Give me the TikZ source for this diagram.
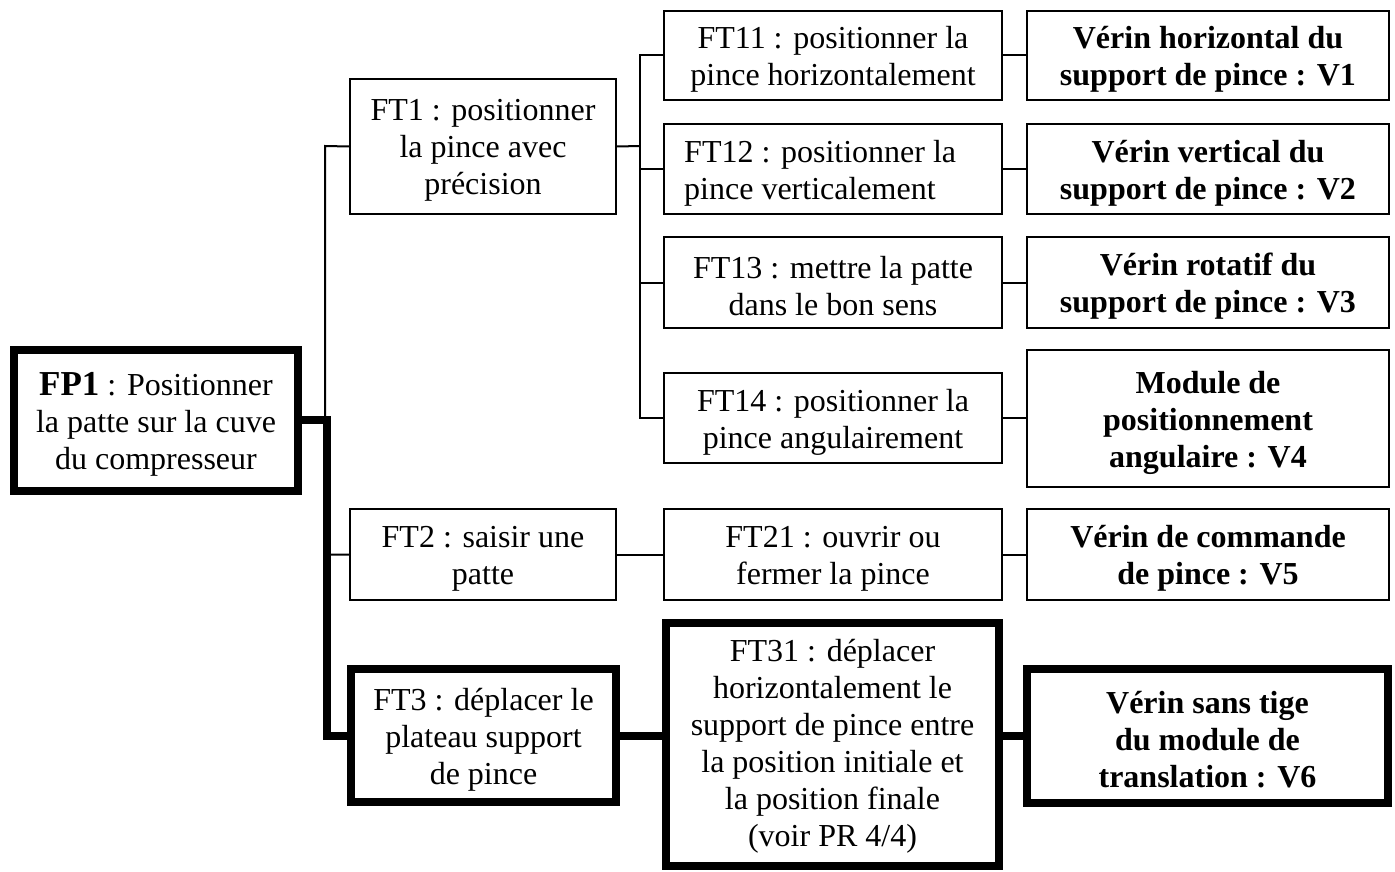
\documentclass[tikz,border=0pt]{standalone}
\usepackage{fontspec}
\setmainfont{Liberation Serif}
\begin{document}
\begin{tikzpicture}[x=1pt,y=-1pt,
  box/.style={draw, line width=2pt, inner sep=0pt},
  thickbox/.style={line width=8pt},
  txt/.style={inner sep=0pt, align=center, font=\fontsize{32}{37}\selectfont},
  btxt/.style={txt, font=\fontsize{32}{37}\selectfont\bfseries},
  conn/.style={line width=2pt},
  tconn/.style={line width=8pt}]
\useasboundingbox (0,0) rectangle (1395,872);
% level 0
\node[box, thickbox, minimum width=284pt, minimum height=141pt] (FP1) at (156,420) {};
\node[txt] (FP1t) at ([yshift=-4pt]FP1.center)
  {{\fontsize{35}{37}\selectfont\bfseries FP1} : Positionner\\la patte sur la cuve\\du compresseur};
% level 1
\node[box, minimum width=266pt, minimum height=135pt] (FT1) at (483,146.5) {};
\node[txt] (FT1t) at ([yshift=-4pt]FT1.center) {FT1 : positionner\\la pince avec\\précision};
\node[box, minimum width=266pt, minimum height=91pt] (FT2) at (483,554.5) {};
\node[txt] (FT2t) at ([yshift=-4pt]FT2.center) {FT2 : saisir une\\patte};
\node[box, thickbox, minimum width=265pt, minimum height=133pt] (FT3) at (483.5,735.5) {};
\node[txt] (FT3t) at ([yshift=-4pt]FT3.center) {FT3 : déplacer le\\plateau support\\de pince};
% level 2
\node[box, minimum width=338pt, minimum height=89pt] (FT11) at (833,55.5) {};
\node[txt] (FT11t) at ([yshift=-4pt]FT11.center) {FT11 : positionner la\\pince horizontalement};
\node[box, minimum width=338pt, minimum height=90pt] (FT12) at (833,169) {};
\node[txt, align=left, anchor=west] (FT12t) at ([yshift=-4pt]FT12.center -| 684,0)
  {FT12 : positionner la\\pince verticalement};
\node[box, minimum width=338pt, minimum height=91pt] (FT13) at (833,282.5) {};
\node[txt] (FT13t) at ([yshift=-4pt]FT13.center) {FT13 : mettre la patte\\dans le bon sens};
\node[box, minimum width=338pt, minimum height=90pt] (FT14) at (833,418) {};
\node[txt] (FT14t) at ([yshift=-4pt]FT14.center) {FT14 : positionner la\\pince angulairement};
\node[box, minimum width=338pt, minimum height=91pt] (FT21) at (833,554.5) {};
\node[txt] (FT21t) at ([yshift=-4pt]FT21.center) {FT21 : ouvrir ou\\fermer la pince};
\node[box, thickbox, minimum width=333pt, minimum height=243pt] (FT31) at (832.5,744.5) {};
\node[txt] (FT31t) at ([yshift=-2pt]FT31.center)
  {FT31 : déplacer\\horizontalement le\\support de pince entre\\la position initiale et\\la position finale\\(voir PR 4/4)};
% level 3
\node[box, minimum width=362pt, minimum height=89pt] (V1) at (1208,55.5) {};
\node[btxt] (V1t) at ([yshift=-4pt]V1.center) {Vérin horizontal du\\support de pince : V1};
\node[box, minimum width=362pt, minimum height=90pt] (V2) at (1208,169) {};
\node[btxt] (V2t) at ([yshift=-4pt]V2.center) {Vérin vertical du\\support de pince : V2};
\node[box, minimum width=362pt, minimum height=91pt] (V3) at (1208,282.5) {};
\node[btxt] (V3t) at ([yshift=-4pt]V3.center) {Vérin rotatif du\\support de pince : V3};
\node[box, minimum width=362pt, minimum height=137pt] (V4) at (1208,418.5) {};
\node[btxt] (V4t) at ([yshift=-4pt]V4.center) {Module de\\positionnement\\angulaire : V4};
\node[box, minimum width=362pt, minimum height=91pt] (V5) at (1208,554.5) {};
\node[btxt] (V5t) at ([yshift=-4pt]V5.center) {Vérin de commande\\de pince : V5};
\node[box, thickbox, minimum width=361pt, minimum height=134pt] (V6) at (1207.5,736) {};
\node[btxt] (V6t) at ([yshift=-4pt]V6.center) {Vérin sans tige\\du module de\\translation : V6};
% connectors
\coordinate (b1) at (325,146);
\coordinate (b2) at (640,146);
\draw[conn] (FT1.west) -- (b1) |- (FT2.west);
\draw[tconn] (FP1.east) -- (327,420) |- (FT3.west);
\draw[conn] (FT1.east) -- (b2);
\draw[conn] (FT11.west) -| (b2) |- (FT14.west);
\draw[conn] (b2 |- FT12.west) -- (FT12.west);
\draw[conn] (b2 |- FT13.west) -- (FT13.west);
\draw[conn] (FT11.east) -- (V1.west);
\draw[conn] (FT12.east) -- (V2.west);
\draw[conn] (FT13.east) -- (V3.west);
\draw[conn] (FT14.east) -- (FT14.east -| V4.west);
\draw[conn] (FT2.east) -- (FT21.west);
\draw[conn] (FT21.east) -- (V5.west);
\draw[tconn] (FT3.east) -- (FT3.east -| FT31.west);
\draw[tconn] (V6.west -| FT31.east) -- (V6.west);
\end{tikzpicture}
\end{document}
